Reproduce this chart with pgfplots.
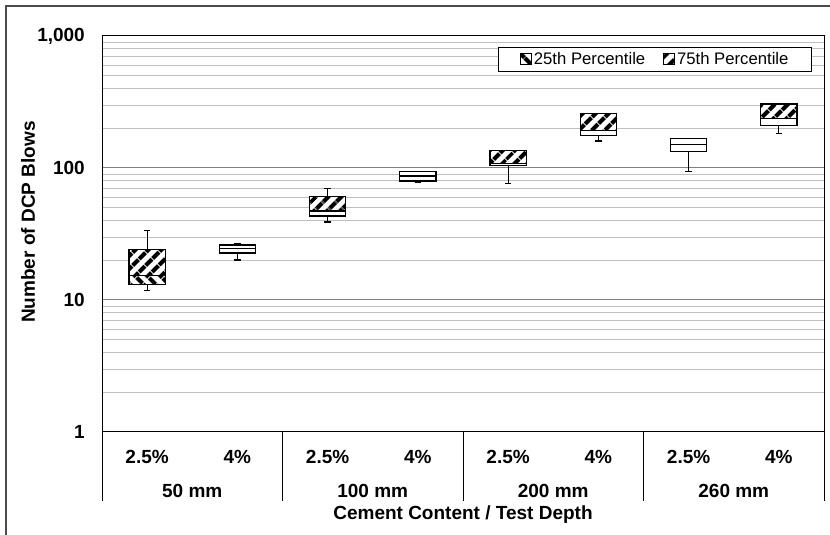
\documentclass[border=0pt]{standalone}
\usepackage{pgfplots}
\pgfplotsset{compat=1.18}
\usetikzlibrary{patterns.meta}
\usepackage{fontspec}
\setmainfont{Liberation Sans}
\tikzset{
  upperhatch/.style={pattern={Lines[angle=45,distance=10bp,line width=4.8bp]}},
  lowerhatch/.style={pattern={Lines[angle=-45,distance=10bp,line width=4.8bp]}},
  boxline/.style={draw=black, line width=1.2bp, solid},
}
\pgfplotsset{sqlegend/.style={legend image code/.code={\draw[##1] (0bp,-5.5bp) rectangle (11bp,5.5bp);}}}
\newcommand{\bigbf}{\fontsize{19bp}{22bp}\selectfont\bfseries}
% \boxat{position}{lower whisker}{Q1}{median}{Q3}{upper whisker}
\newcommand{\boxat}[6]{%
  \pgfmathsetmacro\xl{#1-0.2}\pgfmathsetmacro\xr{#1+0.2}%
  \pgfmathsetmacro\capl{#1-0.035}\pgfmathsetmacro\capr{#1+0.035}%
  \addplot[boxline, forget plot] coordinates {(#1,#2) (#1,#3)};
  \addplot[boxline, forget plot] coordinates {(#1,#5) (#1,#6)};
  \addplot[boxline, forget plot] coordinates {(\capl,#2) (\capr,#2)};
  \addplot[boxline, forget plot] coordinates {(\capl,#6) (\capr,#6)};
  \addplot[boxline, fill=white, forget plot] coordinates {(\xl,#3) (\xr,#3) (\xr,#5) (\xl,#5)} -- cycle;
  \addplot[boxline, forget plot] coordinates {(\xl,#4) (\xr,#4)};
}
% \hatchat{position}{bottom}{top}{style}
\newcommand{\hatchat}[4]{%
  \pgfmathsetmacro\xl{#1-0.2}\pgfmathsetmacro\xr{#1+0.2}%
  \addplot[boxline, #4, forget plot] coordinates {(\xl,#2) (\xr,#2) (\xr,#3) (\xl,#3)} -- cycle;
}
\begin{document}
\begin{tikzpicture}
\path[use as bounding box] (0,0) rectangle (830bp,535bp);
\draw[black!70, line width=1.3bp] (6bp,-10bp) -- (6bp,529bp) -- (840bp,529bp);
\begin{axis}[
  at={(102bp,103bp)}, anchor=south west,
  scale only axis, width=722bp, height=396bp,
  ymode=log, ymin=1, ymax=1000,
  ytick={1,10,100,1000}, yticklabels={1,10,100,{1,000}},
  xmin=-0.5, xmax=7.5, xtick={0,...,7},
  xticklabels={2.5\%,4\%,2.5\%,4\%,2.5\%,4\%,2.5\%,4\%},
  major tick length=0pt, minor tick length=0pt,
  ymajorgrids, yminorgrids,
  major grid style={draw=black!50, line width=1bp},
  minor grid style={draw=black!25, line width=1bp},
  axis line style={black, line width=1bp},
  clip=false,
  tick label style={font=\bigbf},
  yticklabel style={anchor=east, inner sep=0pt, xshift=-17bp},
  xticklabel style={anchor=base, inner sep=0pt, yshift=-31.3bp},
  ylabel={Number of DCP Blows},
  ylabel style={at={(axis description cs:-0.1025,0.53)}, anchor=center, font=\bigbf},
  xlabel={Cement Content / Test Depth},
  xlabel style={at={(axis description cs:0.5,-0.222)}, anchor=base, font=\bigbf},
  legend columns=2,
  legend style={at={(axis description cs:1,1)}, anchor=north east, xshift=-12bp, yshift=-11bp,
    draw=black, line width=1bp, font=\fontsize{16.7bp}{20bp}\selectfont,
    inner xsep=22bp, inner ysep=4bp, nodes={inner sep=1bp},
    /tikz/every odd column/.style={column sep=1bp},
    /tikz/every even column/.style={column sep=17bp}},
]
\addlegendimage{sqlegend, boxline, line width=0.8bp, lowerhatch}
\addlegendentry{25th Percentile}
\addlegendimage{sqlegend, boxline, line width=0.8bp, upperhatch}
\addlegendentry{75th Percentile}

\boxat{0}{11.8}{13.1}{15.4}{24.0}{33.7}
\boxat{1}{20.1}{22.7}{24.5}{26.1}{26.7}
\boxat{2}{39.0}{43.3}{47.2}{60.6}{69.7}
\boxat{3}{78.0}{79.7}{86.9}{93.8}{93.8}
\boxat{4}{76.6}{104.8}{108.6}{136.2}{136.2}
\boxat{5}{160.2}{177.0}{191.6}{259.6}{259.6}
\boxat{6}{93.7}{133.9}{150.3}{166.7}{166.7}
\boxat{7}{183.2}{210.5}{237.9}{305.5}{305.5}

\hatchat{0}{13.1}{15.4}{lowerhatch}
\hatchat{0}{15.4}{24.0}{upperhatch}
\hatchat{2}{47.2}{60.6}{upperhatch}
\hatchat{4}{108.6}{136.2}{upperhatch}
\hatchat{5}{191.6}{259.6}{upperhatch}
\hatchat{7}{237.9}{305.5}{upperhatch}

\foreach \d in {-0.5,1.5,3.5,5.5,7.5}{
  \edef\tmp{\noexpand\draw[black, line width=1bp] (axis cs:\d,1) -- ([yshift=-69bp]axis cs:\d,1);}\tmp
}
\node[anchor=base, yshift=-65bp, font=\bigbf] at (axis cs:0.5,1) {50 mm};
\node[anchor=base, yshift=-65bp, font=\bigbf] at (axis cs:2.5,1) {100 mm};
\node[anchor=base, yshift=-65bp, font=\bigbf] at (axis cs:4.5,1) {200 mm};
\node[anchor=base, yshift=-65bp, font=\bigbf] at (axis cs:6.5,1) {260 mm};
\end{axis}
\end{tikzpicture}
\end{document}
